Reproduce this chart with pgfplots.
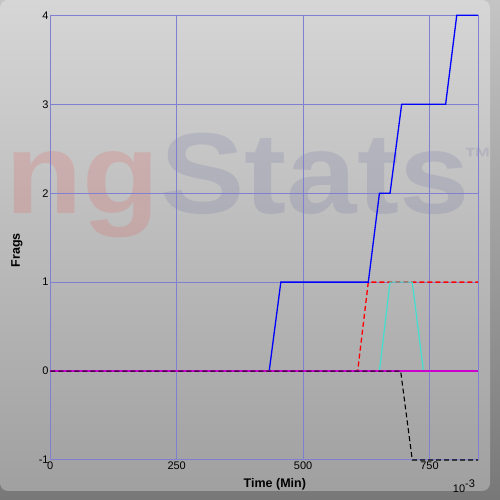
\documentclass[border=0pt]{standalone}
\usepackage{fontspec}
\setmainfont{Liberation Sans}
\usepackage{pgfplots}
\pgfplotsset{compat=1.18}
\definecolor{gridc}{RGB}{128,128,208}
\definecolor{cyanc}{RGB}{64,224,208}
\definecolor{magc}{RGB}{204,0,204}
\definecolor{wmblue}{RGB}{100,100,160}
\begin{document}
\begin{tikzpicture}[x=1pt,y=1pt]
\useasboundingbox (0pt,0pt) rectangle (500pt,500pt);
\shade[top color={rgb,255:red,196;green,196;blue,196}, bottom color={rgb,255:red,120;green,120;blue,120}] (0pt,0pt) rectangle (500pt,500pt);
\shade[top color={rgb,255:red,214;green,214;blue,214}, bottom color={rgb,255:red,160;green,160;blue,160}, rounded corners=8pt] (0pt,9pt) rectangle (490pt,500pt);
% watermark
\node[anchor=base west, inner sep=0, text=red, text opacity=0.11, xscale=1.1] (wm1) at (5pt,286pt) {\fontsize{115}{115}\selectfont\bfseries ng};
\node[anchor=base west, inner sep=0, text=wmblue, text opacity=0.18, xscale=1.1] (wm2) at (wm1.base east) {\fontsize{115}{115}\selectfont\bfseries Stats};
\node[inner sep=0, text=wmblue, text opacity=0.18] at (478pt,342pt) {\fontsize{28}{28}\selectfont\bfseries ™};
\begin{axis}[
  at={(50.3pt,40pt)}, anchor=south west, scale only axis,
  width=427.7pt, height=444.7pt,
  xmin=0, xmax=846, ymin=-1, ymax=4,
  xtick={0,250,500,750}, xticklabels={0,250,500,750},
  ytick={-1,0,1,2,3,4}, yticklabels={-1,0,1,2,3,4},
  grid=major,
  major grid style={gridc, line width=1pt},
  axis line style={gridc, line width=1pt},
  major tick length=0pt,
  tick label style={font=\fontsize{11}{13}\selectfont, inner sep=1.5pt},
  xlabel={\textbf{Time (Min)}}, ylabel={\textbf{Frags}},
  label style={font=\fontsize{12.5}{14}\selectfont},
  xlabel style={at={(axis description cs:0.525,-0.054)}, anchor=center},
  ylabel style={at={(axis description cs:-0.078,0.472)}, anchor=center},
  clip=false,
]
\addplot[red, line width=1.3pt, dash pattern=on 5pt off 3pt] coordinates {(0,0) (608,0) (629,1) (846,1)};
\addplot[cyanc, line width=1.2pt] coordinates {(0,0) (651,0) (672,1) (716,1) (738,0) (846,0)};
\addplot[blue, line width=1.3pt] coordinates {(0,0) (433,0) (456,1) (629,1) (651,2) (672,2) (695,3) (782,3) (804,4) (846,4)};
\addplot[magc, line width=1.6pt] coordinates {(0,0) (846,0)};
\addplot[black, line width=1.1pt, dash pattern=on 5pt off 3pt] coordinates {(0,0) (693,0) (716,-1) (846,-1)};
\end{axis}
\node[font=\fontsize{11}{13}\selectfont] at (464pt,14pt) {10\raisebox{5pt}{-3}};
\end{tikzpicture}
\end{document}
